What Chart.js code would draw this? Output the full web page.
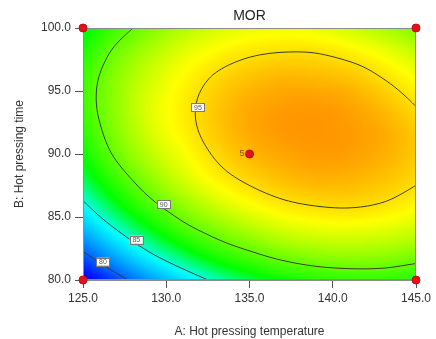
<!DOCTYPE html>
<html>
<head>
<meta charset="utf-8">
<script src="https://cdn.jsdelivr.net/npm/chart.js@4.4.1/dist/chart.umd.min.js"></script>
<style>
  html, body { margin: 0; padding: 0; background: #fff; }
  #wrap { width: 436px; height: 339px; }
</style>
</head>
<body>
<div id="wrap"><canvas id="mor" width="436" height="339"></canvas></div>
<script>
// A: hot pressing temperature (columns), B: hot pressing time (rows)
const tempA = [125, 127, 129, 131, 133, 135, 137, 139, 141, 143, 145];
const timeB = [80, 82, 84, 86, 88, 90, 92, 94, 96, 98, 100];

const morGrid = [
  [76.3, 79.1, 81.5, 83.6, 85.4, 86.8, 87.8, 88.5, 88.8, 88.8, 88.4],
  [79.6, 82.3, 84.7, 86.7, 88.4, 89.6, 90.6, 91.2, 91.4, 91.3, 90.8],
  [82.4, 85.0, 87.3, 89.3, 90.8, 92.0, 92.9, 93.4, 93.5, 93.3, 92.8],
  [84.7, 87.3, 89.5, 91.3, 92.8, 93.9, 94.7, 95.1, 95.2, 94.9, 94.2],
  [86.6, 89.0, 91.1, 92.9, 94.3, 95.3, 96.0, 96.4, 96.3, 95.9, 95.2],
  [87.9, 90.3, 92.3, 93.8, 95.2, 96.2, 96.8, 97.1, 97.0, 96.5, 95.7],
  [88.7, 91.0, 93.0, 94.4, 95.7, 96.7, 97.2, 97.3, 97.1, 96.6, 95.6],
  [89.1, 91.3, 93.2, 94.5, 95.7, 96.6, 97.0, 97.1, 96.8, 96.0, 94.9],
  [89.0, 91.1, 92.8, 94.1, 95.2, 95.9, 96.3, 96.2, 95.9, 95.0, 93.9],
  [88.3, 90.4, 92.0, 93.3, 94.2, 94.8, 95.05, 95.0, 94.5, 93.7, 92.6],
  [87.2, 89.2, 90.7, 92.0, 92.9, 93.4, 93.6, 93.4, 92.8, 91.9, 90.7],
];

const contourLevels = [80, 85, 90, 95];
const contourLabelA = [126.2, 128.2, 129.85, 131.9];
const contourLabelB = [81.45, 83.2, 86.0, 93.7];

// design points (corners + centre with 5 replicates)
const designA = [125, 125, 145, 145, 135];
const designB = [80, 100, 80, 100, 90];
const designCount = ["", "", "", "", "5"];

const xTicks = [125, 130, 135, 140, 145];
const yTicks = [80, 85, 90, 95, 100];

// colour ramp: blue -> cyan -> green -> yellow -> red
const RAMP = [
  { v: 77.0, c: [0, 0, 255] },
  { v: 84.6, c: [0, 255, 255] },
  { v: 87.6, c: [0, 255, 0] },
  { v: 94.0, c: [255, 255, 0] },
  { v: 102.0, c: [255, 0, 0] },
];
const FONT = "'Liberation Sans', Arial, sans-serif";

function gridVal(i, j) {
  const nA = tempA.length, nB = timeB.length;
  if (i < 0) return 2 * gridVal(0, j) - gridVal(1, j);
  if (i >= nA) return 2 * gridVal(nA - 1, j) - gridVal(nA - 2, j);
  if (j < 0) return 2 * gridVal(i, 0) - gridVal(i, 1);
  if (j >= nB) return 2 * gridVal(i, nB - 1) - gridVal(i, nB - 2);
  return morGrid[j][i];
}

function cr(p0, p1, p2, p3, t) {
  return 0.5 * (2 * p1 + (-p0 + p2) * t + (2 * p0 - 5 * p1 + 4 * p2 - p3) * t * t + (-p0 + 3 * p1 - 3 * p2 + p3) * t * t * t);
}

// smooth lookup between the grid values (bicubic)
function morAt(a, b) {
  const gi = (a - tempA[0]) / (tempA[1] - tempA[0]);
  const gj = (b - timeB[0]) / (timeB[1] - timeB[0]);
  const i0 = Math.min(Math.max(Math.floor(gi), 0), tempA.length - 2);
  const j0 = Math.min(Math.max(Math.floor(gj), 0), timeB.length - 2);
  const ti = gi - i0, tj = gj - j0;
  const rows = [];
  for (let dj = -1; dj <= 2; dj++) {
    const j = j0 + dj;
    rows.push(cr(gridVal(i0 - 1, j), gridVal(i0, j), gridVal(i0 + 1, j), gridVal(i0 + 2, j), ti));
  }
  return cr(rows[0], rows[1], rows[2], rows[3], tj);
}

function colorFor(v) {
  if (v <= RAMP[0].v) return RAMP[0].c;
  for (let k = 1; k < RAMP.length; k++) {
    if (v <= RAMP[k].v) {
      const a = RAMP[k - 1], b = RAMP[k];
      const f = (v - a.v) / (b.v - a.v);
      return [0, 1, 2].map((n) => Math.round(a.c[n] + (b.c[n] - a.c[n]) * f));
    }
  }
  return RAMP[RAMP.length - 1].c;
}

const surfacePlugin = {
  id: "surface",
  beforeDatasetsDraw(chart) {
    const { ctx, chartArea: ca, scales } = chart;
    const xs = scales.x, ys = scales.y;
    const w = Math.round(ca.right - ca.left);
    const h = Math.round(ca.bottom - ca.top);

    // colour field
    const off = document.createElement("canvas");
    off.width = w;
    off.height = h;
    const octx = off.getContext("2d");
    const img = octx.createImageData(w, h);
    for (let py = 0; py < h; py++) {
      const b = ys.getValueForPixel(ca.top + py + 0.5);
      for (let px = 0; px < w; px++) {
        const a = xs.getValueForPixel(ca.left + px + 0.5);
        const c = colorFor(morAt(a, b));
        const k = (py * w + px) * 4;
        img.data[k] = c[0];
        img.data[k + 1] = c[1];
        img.data[k + 2] = c[2];
        img.data[k + 3] = 255;
      }
    }
    octx.putImageData(img, 0, 0);
    ctx.drawImage(off, ca.left, ca.top);

    // contour lines (marching squares on pixel corners)
    const W = w + 1;
    const field = new Float64Array(W * (h + 1));
    for (let py = 0; py <= h; py++) {
      const b = ys.getValueForPixel(ca.top + py);
      for (let px = 0; px <= w; px++) {
        field[py * W + px] = morAt(xs.getValueForPixel(ca.left + px), b);
      }
    }
    ctx.save();
    ctx.beginPath();
    ctx.rect(ca.left, ca.top, w, h);
    ctx.clip();
    ctx.strokeStyle = "#3d3d2a";
    ctx.lineWidth = 1;
    contourLevels.forEach((L) => {
      ctx.beginPath();
      for (let py = 0; py < h; py++) {
        for (let px = 0; px < w; px++) {
          const v = [field[py * W + px], field[py * W + px + 1], field[(py + 1) * W + px + 1], field[(py + 1) * W + px]];
          const cx = [px, px + 1, px + 1, px], cy = [py, py, py + 1, py + 1];
          const pts = [];
          for (let e = 0; e < 4; e++) {
            const n = (e + 1) % 4;
            if ((v[e] - L) * (v[n] - L) < 0) {
              const f = (L - v[e]) / (v[n] - v[e]);
              pts.push([cx[e] + (cx[n] - cx[e]) * f, cy[e] + (cy[n] - cy[e]) * f]);
            }
          }
          for (let p = 0; p + 1 < pts.length; p += 2) {
            ctx.moveTo(ca.left + pts[p][0], ca.top + pts[p][1]);
            ctx.lineTo(ca.left + pts[p + 1][0], ca.top + pts[p + 1][1]);
          }
        }
      }
      ctx.stroke();
    });
    ctx.restore();

    // contour labels
    ctx.save();
    ctx.font = `7px ${FONT}`;
    ctx.textAlign = "center";
    ctx.textBaseline = "middle";
    contourLevels.forEach((L, i) => {
      const px = xs.getPixelForValue(contourLabelA[i]);
      const py = ys.getPixelForValue(contourLabelB[i]);
      ctx.fillStyle = "#fff";
      ctx.fillRect(px - 6.5, py - 4, 13, 8);
      ctx.strokeStyle = "#7a7a7a";
      ctx.lineWidth = 1;
      ctx.strokeRect(Math.round(px - 6.5) + 0.5, Math.round(py - 4) + 0.5, 13, 8);
      ctx.fillStyle = "#555";
      ctx.fillText(String(L), px, py + 0.5);
    });
    ctx.restore();

    // plot frame
    ctx.save();
    ctx.strokeStyle = "#8c8c8c";
    ctx.lineWidth = 1;
    ctx.strokeRect(ca.left + 0.5, ca.top + 0.5, w - 1, h - 1);
    ctx.restore();
  },
  afterDatasetsDraw(chart) {
    const { ctx, scales } = chart;
    ctx.save();
    ctx.font = `9px ${FONT}`;
    ctx.fillStyle = "#7a5a10";
    ctx.textAlign = "right";
    ctx.textBaseline = "middle";
    designCount.forEach((t, i) => {
      if (!t) return;
      ctx.fillText(t, scales.x.getPixelForValue(designA[i]) - 5, scales.y.getPixelForValue(designB[i]));
    });
    ctx.restore();
  },
};

const tickStyle = { color: "#333", font: { family: FONT, size: 12 } };

new Chart(document.getElementById("mor"), {
  type: "scatter",
  data: {
    datasets: [
      {
        data: designA.map((a, i) => ({ x: a, y: designB[i] })),
        pointRadius: 4,
        pointHoverRadius: 4,
        backgroundColor: "#e3111a",
        borderColor: "#c40a10",
        borderWidth: 1,
        clip: false,
      },
    ],
  },
  options: {
    responsive: false,
    animation: false,
    events: [],
    layout: { padding: { top: 0, right: 20, bottom: 0, left: 0 } },
    plugins: {
      legend: { display: false },
      tooltip: { enabled: false },
      title: {
        display: true,
        text: "MOR",
        fullSize: false,
        color: "#222",
        font: { family: FONT, size: 14, weight: "normal" },
        padding: { top: 8, bottom: 3.2 },
      },
    },
    scales: {
      x: {
        type: "linear",
        min: 125,
        max: 145,
        afterFit: (s) => { s.height = 59; },
        afterBuildTicks: (s) => { s.ticks = xTicks.map((v) => ({ value: v })); },
        ticks: { ...tickStyle, padding: 3, maxRotation: 0, callback: (v) => v.toFixed(1) },
        grid: { drawOnChartArea: false, drawTicks: true, tickLength: 8, color: "#555" },
        border: { display: true, color: "#8c8c8c" },
        title: { display: true, text: "A: Hot pressing temperature", color: "#333", font: { family: FONT, size: 12 }, padding: { top: 4, bottom: 0 } },
      },
      y: {
        type: "linear",
        min: 80,
        max: 100,
        afterFit: (s) => { s.width = 83; },
        afterBuildTicks: (s) => { s.ticks = yTicks.map((v) => ({ value: v })); },
        ticks: { ...tickStyle, padding: 4, callback: (v) => v.toFixed(1) },
        grid: { drawOnChartArea: false, drawTicks: true, tickLength: 8, color: "#555" },
        border: { display: true, color: "#8c8c8c" },
        title: { display: true, text: "B: Hot pressing time", color: "#333", font: { family: FONT, size: 12 }, padding: { top: 12, bottom: 4 } },
      },
    },
  },
  plugins: [surfacePlugin],
});
</script>
</body>
</html>
